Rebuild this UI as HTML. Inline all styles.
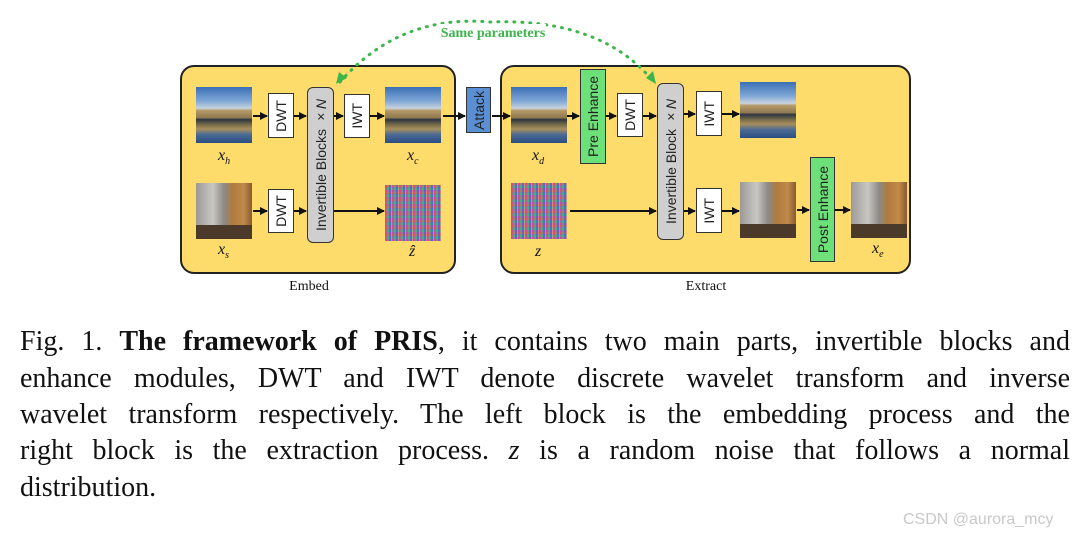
<!DOCTYPE html>
<html><head><meta charset="utf-8"><style>
body{margin:0;width:1088px;height:537px;background:#fff;position:relative;overflow:hidden;font-family:"Liberation Sans",sans-serif}
.a{position:absolute}
.panel{position:absolute;background:#fddc6c;border:2px solid #222;border-radius:14px;box-sizing:border-box}
.box{position:absolute;box-sizing:border-box;border:1.5px solid #333;background:#fff;display:flex;align-items:center;justify-content:center}
.box span{writing-mode:vertical-rl;transform:rotate(180deg);font-size:14px;color:#222;white-space:nowrap}
.bld{position:absolute;width:56px;height:56px;background:
linear-gradient(180deg,#3a6fb5 0%,#7fa7d6 25%,#c8d3de 38%,#b59a68 42%,#8d7850 55%,#2c3442 58%,#6d6548 66%,#a88f5c 75%,#4b6a95 85%,#2a4d80 100%)}
.arch{position:absolute;width:56px;height:56px;background:
linear-gradient(90deg,#9b9a98 0%,#c9c7c2 30%,#8c8a86 50%,#b07a3e 65%,#c08a4a 85%,#8a5a30 100%)}
.arch:after{content:"";position:absolute;left:0;right:0;bottom:0;height:14px;background:#4b3a2a}
.noise{position:absolute;width:56px;height:56px;background:
repeating-linear-gradient(90deg,rgba(255,60,120,.55) 0 2px,rgba(60,200,90,.5) 2px 4px,rgba(70,90,230,.55) 4px 6px,rgba(240,200,60,.45) 6px 7px),
repeating-linear-gradient(0deg,#b050c0 0 2px,#40a0a0 2px 4px,#7070d0 4px 5px,#c06070 5px 7px)}
.lbl{position:absolute;font-family:"Liberation Serif",serif;font-style:italic;font-size:16px;color:#111}
.cap{position:absolute;left:20px;width:1050px;font-family:"Liberation Serif",serif;font-size:28px;color:#111;text-align:justify;text-align-last:justify;white-space:nowrap;line-height:32px}
</style></head><body>
<div class="panel" style="left:180px;top:65px;width:276px;height:209px"></div>
<div class="panel" style="left:500px;top:65px;width:411px;height:209px"></div>

<svg class="a" style="left:0;top:0" width="1088" height="300">
<defs><marker id="ar" markerWidth="8" markerHeight="8" refX="7" refY="4" orient="auto" markerUnits="userSpaceOnUse"><path d="M0,0L8,4L0,8z" fill="#111"/></marker></defs>
<g stroke="#111" stroke-width="2" fill="none" marker-end="url(#ar)">
<line x1="253" y1="116" x2="267" y2="116"/><line x1="294" y1="116" x2="306" y2="116"/>
<line x1="334" y1="116" x2="343" y2="116"/><line x1="370" y1="116" x2="384" y2="116"/>
<line x1="253" y1="211" x2="267" y2="211"/><line x1="294" y1="211" x2="306" y2="211"/>
<line x1="334" y1="211" x2="384" y2="211"/>
<line x1="443" y1="116" x2="465" y2="116"/><line x1="492" y1="116" x2="510" y2="116"/>
<line x1="567" y1="116" x2="579" y2="116"/><line x1="606" y1="116" x2="616" y2="116"/><line x1="643" y1="116" x2="656" y2="116"/>
<line x1="684" y1="114" x2="695" y2="114"/><line x1="722" y1="114" x2="739" y2="114"/>
<line x1="570" y1="211" x2="656" y2="211"/>
<line x1="684" y1="211" x2="695" y2="211"/><line x1="722" y1="211" x2="739" y2="211"/>
<line x1="797" y1="210" x2="809" y2="210"/><line x1="835" y1="210" x2="850" y2="210"/>
</g>
<path d="M340,82 Q400,14 490,22 Q600,18 652,80" stroke="#3cb54a" stroke-width="3" stroke-dasharray="1 7" stroke-linecap="round" fill="none"/>
<path d="M336,84 l3,-12 l8,6z" fill="#3cb54a"/>
<path d="M656,84 l-10,-6 l7,-7z" fill="#3cb54a"/>
<rect x="440" y="24" width="106" height="16" fill="#fff"/>
<text x="493" y="37" text-anchor="middle" font-family="Liberation Serif,serif" font-size="14" font-weight="bold" fill="#3cb54a">Same parameters</text>
<text x="309" y="290" text-anchor="middle" font-family="Liberation Serif,serif" font-size="14" fill="#111">Embed</text>
<text x="706" y="290" text-anchor="middle" font-family="Liberation Serif,serif" font-size="14" fill="#111">Extract</text>
</svg>

<div class="bld" style="left:196px;top:87px"></div>
<div class="arch" style="left:196px;top:183px"></div>
<div class="bld" style="left:385px;top:87px"></div>
<div class="noise" style="left:385px;top:185px"></div>
<div class="bld" style="left:511px;top:87px"></div>
<div class="noise" style="left:511px;top:183px"></div>
<div class="bld" style="left:740px;top:82px"></div>
<div class="arch" style="left:740px;top:182px"></div>
<div class="arch" style="left:851px;top:182px"></div>

<div class="box" style="left:268px;top:93px;width:26px;height:45px"><span>DWT</span></div>
<div class="box" style="left:268px;top:189px;width:26px;height:44px"><span>DWT</span></div>
<div class="box" style="left:307px;top:87px;width:27px;height:156px;background:#cfcfcf;border-radius:6px"><span>Invertible Blocks ×<i>N</i></span></div>
<div class="box" style="left:344px;top:94px;width:26px;height:44px"><span>IWT</span></div>
<div class="box" style="left:466px;top:87px;width:25px;height:46px;background:#5b8fd4"><span>Attack</span></div>
<div class="box" style="left:580px;top:69px;width:26px;height:95px;background:#6ee07a"><span>Pre Enhance</span></div>
<div class="box" style="left:617px;top:93px;width:26px;height:44px"><span>DWT</span></div>
<div class="box" style="left:657px;top:83px;width:27px;height:157px;background:#cfcfcf;border-radius:6px"><span>Invertible Block ×<i>N</i></span></div>
<div class="box" style="left:696px;top:91px;width:26px;height:45px"><span>IWT</span></div>
<div class="box" style="left:696px;top:188px;width:26px;height:45px"><span>IWT</span></div>
<div class="box" style="left:810px;top:157px;width:25px;height:105px;background:#6ee07a"><span>Post Enhance</span></div>

<div class="lbl" style="left:218px;top:147px">x<sub style="font-size:10px">h</sub></div>
<div class="lbl" style="left:407px;top:147px">x<sub style="font-size:10px">c</sub></div>
<div class="lbl" style="left:532px;top:147px">x<sub style="font-size:10px">d</sub></div>
<div class="lbl" style="left:218px;top:241px">x<sub style="font-size:10px">s</sub></div>
<div class="lbl" style="left:409px;top:243px">ẑ</div>
<div class="lbl" style="left:535px;top:243px">z</div>
<div class="lbl" style="left:872px;top:240px">x<sub style="font-size:10px">e</sub></div>

<div class="cap" style="top:326px">Fig. 1. <b>The framework of PRIS</b>, it contains two main parts, invertible blocks and</div>
<div class="cap" style="top:363px">enhance modules, DWT and IWT denote discrete wavelet transform and inverse</div>
<div class="cap" style="top:399px">wavelet transform respectively. The left block is the embedding process and the</div>
<div class="cap" style="top:435px">right block is the extraction process. <i>z</i> is a random noise that follows a normal</div>
<div class="cap" style="top:472px;text-align-last:left">distribution.</div>
<div class="a" style="left:903px;top:511px;font-size:16px;color:#c8c8c8">CSDN @aurora_mcy</div>
</body></html>
